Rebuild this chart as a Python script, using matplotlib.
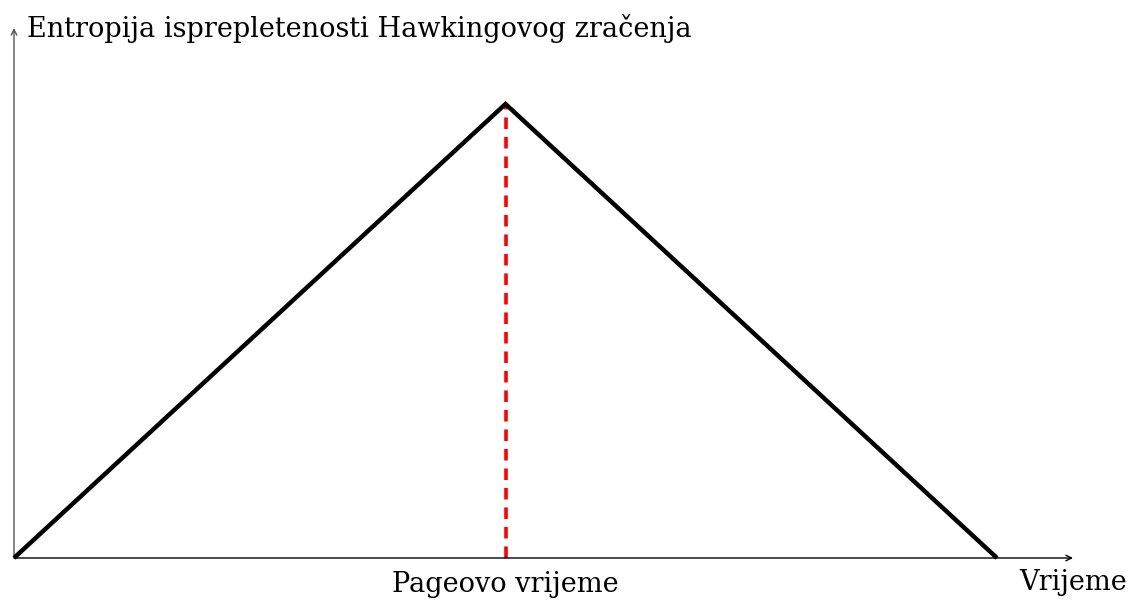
import matplotlib
matplotlib.use("Agg")
import matplotlib.pyplot as plt

# Data
time = [0, 5, 10]
entropy = [0, 1, 0]
page_time = 5
page_entropy = 1
x_label = "Vrijeme"
y_label = "Entropija isprepletenosti Hawkingovog zračenja"
page_label = "Pageovo vrijeme"

W, H = 1129, 602
fig = plt.figure(figsize=(W / 100, H / 100), dpi=100)
x0, y0 = 14, 558
x1, y1 = 1073, 28
ax = fig.add_axes([x0 / W, (H - y0) / H, (x1 - x0) / W, (y0 - y1) / H])
xmax = (x1 - x0) / (997 - x0) * 10
ymax = (y0 - y1) / (y0 - 104)
ax.set_xlim(0, xmax)
ax.set_ylim(0, ymax)
ax.axis("off")

font = "DejaVu Serif"
fs = 19.5

# axes with arrows
ax.annotate("", xy=(xmax, 0), xytext=(0, 0),
            arrowprops=dict(arrowstyle="->", lw=1.0, color="black", shrinkA=0, shrinkB=0),
            annotation_clip=False)
ax.annotate("", xy=(0, ymax), xytext=(0, 0),
            arrowprops=dict(arrowstyle="->", lw=1.0, color="#555555", shrinkA=0, shrinkB=0),
            annotation_clip=False)

ax.plot(time, entropy, color="black", lw=3.2, solid_joinstyle="miter",
        solid_capstyle="butt", clip_on=False, zorder=3)
ax.plot([page_time, page_time], [0, page_entropy], color="red", lw=2.6,
        linestyle=(0, (3.2, 2.2)), clip_on=False, zorder=2)

def px(x, y):
    return x / W, 1 - y / H

fig.text(*px(27, 37), y_label, fontsize=fs, family=font, ha="left", va="baseline")
fig.text(*px(505, 592), page_label, fontsize=fs, family=font, ha="center", va="baseline")
fig.text(*px(1019, 590), x_label, fontsize=fs, family=font, ha="left", va="baseline")

fig.savefig("out.png", dpi=100)
